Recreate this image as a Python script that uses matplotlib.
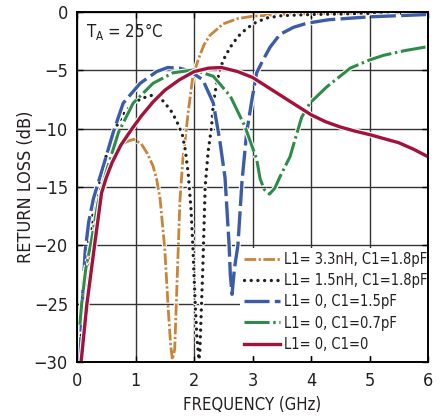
import matplotlib
matplotlib.use("Agg")
import matplotlib.pyplot as plt
import matplotlib.patheffects as pe
from matplotlib import font_manager as fm

# the chart uses a narrow sans; use a condensed face when one is installed
names = {f.name for f in fm.fontManager.ttflist}
if "Liberation Sans Narrow" in names:
    plt.rcParams["font.family"] = ["Liberation Sans Narrow", "DejaVu Sans"]
    SCALE = 1.08
elif any(f.name == "DejaVu Sans" and f.stretch == "condensed" for f in fm.fontManager.ttflist):
    plt.rcParams["font.family"] = ["DejaVu Sans"]
    plt.rcParams["font.stretch"] = "condensed"
    SCALE = 1.0
else:
    plt.rcParams["font.family"] = ["Liberation Sans", "DejaVu Sans"]
    SCALE = 0.9
plt.rcParams["mathtext.default"] = "regular"

# L1 = 3.3nH, C1 = 1.8pF
f_orange = [0.07, 0.12, 0.25, 0.39, 0.56, 0.73, 0.85, 0.97, 1.1, 1.2, 1.3, 1.36, 1.42, 1.5, 1.56,
            1.6, 1.63, 1.67, 1.7, 1.73, 1.76, 1.81, 1.86, 1.9, 1.98, 2.07, 2.17, 2.27, 2.5, 2.75,
            3.0, 3.5, 4.0, 5.0, 6.0]
rl_orange = [-30, -25, -20, -16.3, -13.2, -11.5, -11.1, -10.9, -11.3, -12.1, -13.2, -14.3, -16, -20.3, -25.5,
             -28.5, -29.8, -28.9, -24.6, -20.3, -16.1, -12.6, -10.4, -8.6, -5.5, -4.1, -2.8, -2.0, -1.0, -0.55,
             -0.35, -0.2, -0.12, -0.07, -0.05]

# L1 = 1.5nH, C1 = 1.8pF
f_black = [0.05, 0.1, 0.19, 0.3, 0.45, 0.55, 0.65, 0.8, 0.95, 1.1, 1.3, 1.45, 1.6, 1.7, 1.8, 1.85,
           1.9, 1.95, 1.98, 2.02, 2.05, 2.085, 2.1, 2.15, 2.19, 2.24, 2.3, 2.33, 2.39, 2.44, 2.5,
           2.62, 2.75, 2.9, 3.05, 3.24, 3.5, 4.0, 5.0, 6.0]
rl_black = [-30, -25, -20, -16.5, -13.3, -11.3, -10.0, -8.7, -7.9, -7.4, -7.1, -7.5, -8.4, -9.3, -10.5, -11.8,
            -13.8, -17, -20, -25, -28, -29.8, -29, -22, -15, -12, -9.8, -7.8, -6.0, -5.0, -4.1,
            -3.0, -2.1, -1.4, -0.9, -0.5, -0.3, -0.2, -0.12, -0.08]

# L1 = 0, C1 = 1.5pF
f_blue = [0.05, 0.08, 0.1, 0.14, 0.2, 0.28, 0.45, 0.62, 0.79, 1.08, 1.36, 1.55, 1.75, 1.9, 2.0, 2.15,
          2.33, 2.44, 2.53, 2.6, 2.62, 2.65, 2.69, 2.75, 2.82, 2.9, 2.99, 3.07, 3.18, 3.3, 3.47,
          3.7, 3.93, 4.3, 5.0, 6.0]
rl_blue = [-30, -26, -24, -20.5, -18, -16, -13.2, -10.3, -7.8, -6.1, -5.1, -4.75, -4.8, -5.0, -5.3, -5.8,
           -7.8, -11, -14.2, -20, -22.5, -24.2, -22, -20, -14.5, -10.3, -7.5, -5.2, -4.1, -3.0, -1.9,
           -1.3, -0.95, -0.65, -0.4, -0.2]

# L1 = 0, C1 = 0.7pF
f_green = [0.05, 0.08, 0.15, 0.25, 0.36, 0.51, 0.71, 0.96, 1.3, 1.64, 2.0, 2.33, 2.62, 2.87, 3.07,
           3.13, 3.2, 3.29, 3.38, 3.47, 3.64, 3.84, 3.98, 4.27, 4.67, 5.0, 5.24, 5.6, 6.0]
rl_green = [-26.8, -25, -22, -19.5, -16.3, -13.5, -10.3, -7.8, -6.1, -5.2, -4.95, -5.5, -7.2, -9.8, -12.6,
            -14.3, -15.2, -15.6, -15.1, -14.1, -12.4, -9.0, -7.8, -6.4, -4.8, -4.1, -3.7, -3.3, -2.95]

# L1 = 0, C1 = 0
f_red = [0.07, 0.17, 0.3, 0.42, 0.5, 0.6, 0.75, 0.94, 1.1, 1.3, 1.5, 1.75, 2.0, 2.25, 2.47, 2.75,
         3.0, 3.25, 3.5, 3.75, 4.0, 4.25, 4.5, 4.75, 5.0, 5.25, 5.5, 5.75, 6.0]
rl_red = [-30, -25, -20, -15.5, -14.2, -12.9, -11.4, -10.0, -8.9, -7.7, -6.7, -5.8, -5.1, -4.8, -4.75, -5.1,
          -5.6, -6.4, -7.2, -8.0, -8.8, -9.4, -9.85, -10.2, -10.5, -10.85, -11.2, -11.75, -12.4]

labels = ["L1= 3.3nH, C1=1.8pF", "L1= 1.5nH, C1=1.8pF", "L1= 0, C1=1.5pF",
          "L1= 0, C1=0.7pF", "L1= 0, C1=0"]

TXT = "#231f20"

fig = plt.figure(figsize=(4.45, 4.19), dpi=100)
ax = fig.add_axes([0.173, 0.136, 0.789, 0.835])

def outline(lw):
    return [pe.Stroke(linewidth=lw + 1.6, foreground="white"), pe.Normal()]

ax.plot(f_orange, rl_orange, color="#c8843a", lw=2.0, ls=(0, (4.2, 0.9, 0.8, 0.9)),
        dash_capstyle="butt", path_effects=outline(2.0), label=labels[0], zorder=3)
ax.plot(f_black, rl_black, color=TXT, lw=2.4, ls=(0, (0.01, 2.0)),
        dash_capstyle="round", path_effects=outline(2.4), label=labels[1], zorder=3)
ax.plot(f_blue, rl_blue, color="#3b5ca8", lw=2.4, ls=(0, (7.5, 1.6)),
        path_effects=outline(2.4), label=labels[2], zorder=3)
ax.plot(f_green, rl_green, color="#2f8c48", lw=2.2, ls=(0, (8.2, 1.2, 0.8, 1.2)),
        path_effects=outline(2.2), label=labels[3], zorder=3)
ax.plot(f_red, rl_red, color="#a3123a", lw=2.4, path_effects=outline(2.4),
        label=labels[4], zorder=3)

ax.set_xlim(0, 6)
ax.set_ylim(-30, 0)
ax.set_xticks(range(0, 7))
ax.set_yticks(range(-30, 1, 5))
ax.grid(True, color="#333333", lw=1.0)
ax.set_axisbelow(True)
for s in ax.spines.values():
    s.set_linewidth(1.4)
    s.set_zorder(6)
ax.tick_params(direction="in", length=4, width=1, labelsize=13 * SCALE, top=True, right=True,
               pad=6.5, labelcolor=TXT)
ax.tick_params(axis="x", pad=7.5)

ax.set_xlabel("FREQUENCY (GHz)", fontsize=12 * SCALE, color=TXT, labelpad=4)
ax.set_ylabel("RETURN LOSS (dB)", fontsize=13 * SCALE, color=TXT, labelpad=-1)
ax.text(0.025, 0.975, r"T$_\mathregular{A}$ = 25°C", transform=ax.transAxes,
        fontsize=12 * SCALE, va="top", ha="left", color=TXT)

leg = ax.legend(loc="lower right", bbox_to_anchor=(1.012, 0.017), fontsize=10.5 * SCALE,
                handlelength=2.5, handletextpad=0.27, labelspacing=0.42, borderpad=0.3,
                borderaxespad=0.0, frameon=True, fancybox=False, framealpha=1.0)
leg.get_frame().set_edgecolor("none")
leg.get_frame().set_facecolor("white")
for h in leg.get_lines():
    h.set_path_effects([])
for t in leg.get_texts():
    t.set_color(TXT)

fig.savefig("out.png", dpi=100)
